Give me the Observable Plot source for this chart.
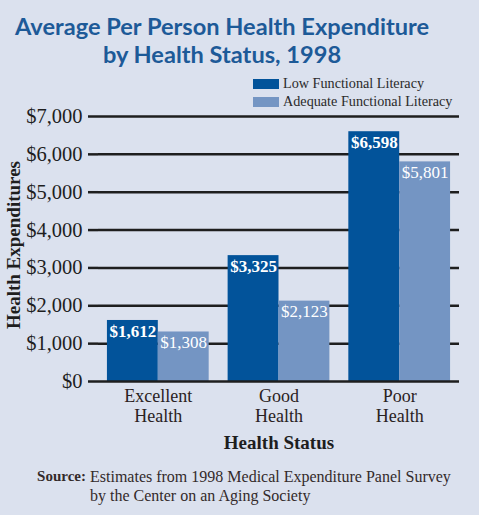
<!DOCTYPE html>
<html>
<head>
<meta charset="utf-8">
<script src="https://cdn.jsdelivr.net/npm/d3@7"></script>
<script src="https://cdn.jsdelivr.net/npm/@observablehq/plot@0.6"></script>
<style>
  html, body { margin: 0; padding: 0; background: #dbe1ee; }
  #page { position: relative; width: 479px; height: 515px; background: #dbe1ee; overflow: hidden; }
  .title { position: absolute; left: 0; width: 444px; top: 12px; text-align: center;
    font-family: Lato, "Open Sans", sans-serif; font-weight: 700; font-size: 23.6px; line-height: 28px; color: #1d5a98; }
  .leg { position: absolute; left: 253px; font-family: "Liberation Serif", serif; font-size: 14.2px; line-height: 18px; color: #2a2a2a; white-space: nowrap; }
  .leg .sw { display: inline-block; width: 26px; height: 10px; vertical-align: top; margin-top: 4.5px; margin-right: 4px; }
  #chart { position: absolute; left: 0; top: 108px; }
  .src { position: absolute; font-family: "Liberation Serif", serif; font-size: 16px; line-height: 19px; color: #332a2a; white-space: nowrap; }
</style>
</head>
<body>
<div id="page">
  <div class="title">Average Per Person Health Expenditure<br>by Health Status, 1998</div>
  <div class="leg" id="leg0" style="top:74px"></div>
  <div class="leg" id="leg1" style="top:92px"></div>
  <div id="chart"></div>
  <div class="src" style="right:393px; top:467px; font-weight:bold; font-size:15px;">Source:</div>
  <div class="src" style="left:90px; top:467px;">Estimates from 1998 Medical Expenditure Panel Survey<br>by the Center on an Aging Society</div>
</div>
<script>
// ---- data ----
const categories = ["Excellent Health", "Good Health", "Poor Health"];
const categoryLabels = ["Excellent\nHealth", "Good\nHealth", "Poor\nHealth"];
const seriesNames = ["Low Functional Literacy", "Adequate Functional Literacy"];
const lowValues = [1612, 3325, 6598];
const adequateValues = [1308, 2123, 5801];
const yTicks = [0, 1000, 2000, 3000, 4000, 5000, 6000, 7000];
const seriesColors = ["#02539a", "#7495c3"];

// ---- tables ----
const lowData = categories.map((c, i) => ({category: c, value: lowValues[i]}));
const adequateData = categories.map((c, i) => ({category: c, value: adequateValues[i]}));
const labelMap = Object.fromEntries(categories.map((c, i) => [c, categoryLabels[i]]));
const money = v => "$" + d3.format(",")(v);

// legend
seriesNames.forEach((s, i) => {
  const el = document.getElementById("leg" + i);
  el.innerHTML = `<span class="sw" style="background:${seriesColors[i]}"></span>${s}`;
});

const W = 479, H = 350, mL = 98, mR = 20, mT = 8, mB = 77;
const pInner = 0.157, pOuter = 0.074;
const bw = d3.scaleBand().domain(categories).range([mL, W - mR]).paddingInner(pInner).paddingOuter(pOuter).bandwidth();

const chart = Plot.plot({
  width: W, height: H,
  marginLeft: mL, marginRight: mR, marginTop: mT, marginBottom: mB,
  style: {fontFamily: "Liberation Serif, serif", background: "transparent", overflow: "visible"},
  x: {domain: categories, paddingInner: pInner, paddingOuter: pOuter, round: false, label: null},
  y: {domain: [0, 7000], label: null},
  marks: [
    Plot.ruleY(yTicks.filter(d => d > 0), {stroke: "#1e1e1e", strokeWidth: 2.5}),
    Plot.barY(lowData, {x: "category", y: "value", fill: seriesColors[0], insetRight: bw / 2}),
    Plot.barY(adequateData, {x: "category", y: "value", fill: seriesColors[1], insetLeft: bw / 2}),
    Plot.ruleY([0], {stroke: "#1e1e1e", strokeWidth: 2.5}),
    Plot.text(lowData, {x: "category", y: "value", text: d => money(d.value), dx: -bw / 4, dy: 4,
      lineAnchor: "top", fill: "white", fontWeight: "bold", fontSize: 17}),
    Plot.text(adequateData, {x: "category", y: "value", text: d => money(d.value), dx: bw / 4, dy: 4,
      lineAnchor: "top", fill: "white", fontSize: 17}),
    Plot.axisY(yTicks, {tickSize: 10, tickPadding: 6, tickFormat: money, fontSize: 20.5,
      color: "#1e1e1e", strokeWidth: 2.5, line: true, label: null}),
    Plot.axisX({tickSize: 0, tickPadding: 6, tickFormat: d => labelMap[d], fontSize: 18,
      lineHeight: 1.12, color: "#2a2222", label: null}),
    Plot.text(["Health Status"], {frameAnchor: "bottom", lineAnchor: "bottom", dy: 67,
      fontWeight: "bold", fontSize: 19, fill: "#1e1e1e"}),
    Plot.text(["Health Expenditures"], {frameAnchor: "left", textAnchor: "middle", dx: -85, dy: -4, rotate: -90,
      fontWeight: "bold", fontSize: 19, fill: "#1e1e1e"})
  ]
});
document.getElementById("chart").appendChild(chart);
</script>
</body>
</html>
